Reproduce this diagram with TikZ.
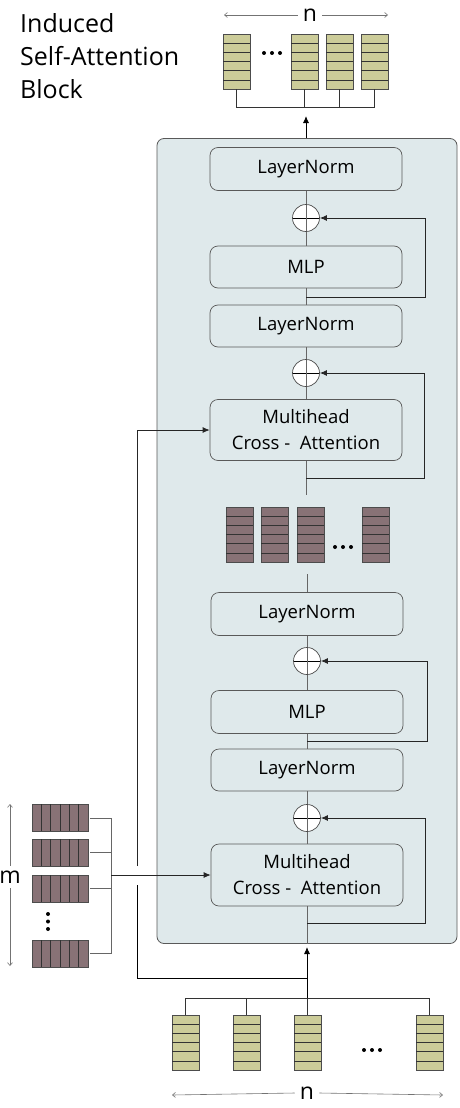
\documentclass[tikz,border=0pt]{standalone}
\usepackage{fontspec}
\setmainfont{Open Sans}
\usetikzlibrary{arrows.meta}
\definecolor{blockfill}{RGB}{223,233,235}
\definecolor{olivetok}{RGB}{204,204,153}
\definecolor{mauvetok}{RGB}{136,114,118}
\def\vtok(#1,#2)#3{\draw[fill=#3, draw=black!70, line width=0.6pt] (#1,#2) rectangle ++(27,55); \foreach \k in {1,...,5} {\draw[black!80, line width=0.6pt] (#1,#2) ++(0,{\k*55/6}) -- ++(27,0);}}
\def\htok(#1,#2)#3{\draw[fill=#3, draw=black!70, line width=0.6pt] (#1,#2) rectangle ++(56,27); \foreach \k in {1,...,5} {\draw[black!80, line width=0.6pt] (#1,#2) ++({\k*56/6},0) -- ++(0,27);}}
\def\tokdot(#1,#2){\fill[black] (#1,#2) circle (2);}
\tikzset{
	unit/.style={draw=black!65, fill=blockfill, line width=0.7pt, rounded corners=8pt, minimum width=192pt, minimum height=43pt, align=center, font=\fontsize{18.5}{26}\selectfont},
	addnode/.style={circle, draw=black!70, fill=white, line width=0.7pt, minimum size=27pt, inner sep=0pt, path picture={\draw[black, line width=0.7pt] (path picture bounding box.west) -- (path picture bounding box.east); \draw[black!60, line width=0.7pt] (path picture bounding box.north) -- (path picture bounding box.south);}},
	link/.style={draw=black!60, line width=0.9pt},
	skiplink/.style={draw=black!85, line width=0.9pt, -{Latex[length=7pt,width=6pt]}},
	dimline/.style={draw=black!55, line width=0.6pt, -{Straight Barb[length=3pt,width=5pt]}},
	lbl/.style={font=\fontsize{23}{26}\selectfont, inner sep=5pt}
}

\begin{document}
\begin{tikzpicture}[x=1pt, y=-1pt]
		%%%%% START %%%%%
		\useasboundingbox (0,0) rectangle (459,1108);
		
		\node[anchor=base west, inner sep=0pt, font=\fontsize{25}{33}\selectfont] (title1) at (20,33) {Induced};
		\node[anchor=base west, inner sep=0pt, font=\fontsize{25}{33}\selectfont] (title2) at (20,66) {Self-Attention};
		\node[anchor=base west, inner sep=0pt, font=\fontsize{25}{33}\selectfont] (title3) at (20,99) {Block};
		
		\node[draw=black!65, fill=blockfill, line width=0.8pt, rounded corners=7pt, minimum width=300pt, minimum height=805pt] (block) at (307,541) {};
		
		%% upper half
		\node[unit] (ln1) at (306,169) {LayerNorm};
		\node[addnode] (add1) at (306,218) {};
		\node[unit, minimum height=42pt] (mlp1) at (306,267) {MLP};
		\node[unit, minimum height=42pt] (ln2) at (306,326) {LayerNorm};
		\node[addnode] (add2) at (306,373) {};
		\node[unit, minimum height=61pt] (mh1) at (306,430) {Multihead\\Cross -\ \ Attention};
		
		\draw[link] (ln1) -- (add1) -- (mlp1) -- (ln2) -- (add2) -- (mh1);
		\coordinate (br1) at (306,297);
		\coordinate (br2) at (306,478);
		\coordinate (m1) at (306,495);
		\draw[link] (mh1.south) -- (m1);
		\draw[skiplink] (br1) -- ++(119,0) |- (add1.east);
		\draw[skiplink] (br2) -- ++(118,0) |- (add2.east);
		
		%% induced points
		\vtok(226,507){mauvetok}
		\vtok(261,507){mauvetok}
		\vtok(297,507){mauvetok}
		\vtok(362,507){mauvetok}
		\tokdot(335,547) \tokdot(343,547) \tokdot(351,547)
		
		%% lower half
		\coordinate (m2) at (307,574);
		\node[unit] (ln3) at (307,614) {LayerNorm};
		\node[addnode] (add3) at (307,661) {};
		\node[unit] (mlp2) at (307,712) {MLP};
		\node[unit, minimum height=42pt] (ln4) at (307,770) {LayerNorm};
		\node[addnode] (add4) at (307,818) {};
		\node[unit, minimum height=62pt] (mh2) at (307,875) {Multihead\\Cross -\ \ Attention};
		
		\draw[link] (m2) -- (ln3) -- (add3) -- (mlp2) -- (ln4) -- (add4) -- (mh2) -- (mh2 |- block.south);
		\coordinate (br3) at (307,741);
		\coordinate (br4) at (307,923);
		\draw[skiplink] (br3) -- ++(120,0) |- (add3.east);
		\draw[skiplink] (br4) -- ++(118,0) |- (add4.east);
		
		%% output tokens
		\node[lbl] (ntop) at (310,15) {n};
		\draw[dimline] (ntop.west) -- (224,15);
		\draw[dimline] (ntop.east) -- (388,15);
		\vtok(223,34){olivetok}
		\vtok(291,34){olivetok}
		\vtok(326,34){olivetok}
		\vtok(361,34){olivetok}
		\tokdot(264,53) \tokdot(272,53) \tokdot(280,53)
		\coordinate (tbar) at (306,107);
		\draw[black!80, line width=0.8pt] (236.5,89) |- (374.5,107) -- (374.5,89);
		\draw[black!80, line width=0.8pt] (304.5,89) -- (304.5,107);
		\draw[black!80, line width=0.8pt] (339.5,89) -- (339.5,107);
		\coordinate (tout) at (306,116);
		\draw[link, -{Latex[length=7pt,width=6pt]}, draw=black] (block.north -| tout) -- (tout);
		
		%% set of size m
		\htok(32,804){mauvetok}
		\htok(32,839){mauvetok}
		\htok(32,875){mauvetok}
		\htok(32,940){mauvetok}
		\tokdot(48,914) \tokdot(48,921.5) \tokdot(48,929)
		\draw[link] (90,818) -- (111,818) -- (111,953) -- (90,953);
		\draw[link] (90,852) -- (111,852);
		\draw[link] (90,888) -- (111,888);
		\coordinate (mset) at (111,875);
		\draw[skiplink, line width=0.8pt] (mset) -- (mh2.west);
		\node[lbl] (mlab) at (10,877) {m};
		\draw[dimline] (mlab.north) -- (10,804);
		\draw[dimline] (mlab.south) -- (10,966);
		
		%% input tokens
		\coordinate (bbar) at (307,998);
		\coordinate (ljoin) at (307,978);
		\coordinate (bin) at (307,947);
		\draw[skiplink, draw=black] (bbar) -- (bin);
		\draw[link, draw=black] (ljoin) -| (137,885);
		\draw[skiplink, line width=0.8pt] (137,866) |- (mh1.west);
		\vtok(172,1015){olivetok}
		\vtok(233,1015){olivetok}
		\vtok(294,1015){olivetok}
		\vtok(416,1015){olivetok}
		\tokdot(364,1050) \tokdot(372,1050) \tokdot(380,1050)
		\draw[black!80, line width=0.8pt] (185.5,1015) |- (429.5,998) -- (429.5,1015);
		\draw[black!80, line width=0.8pt] (246.5,1015) -- (246.5,998);
		\draw[black!80, line width=0.8pt] (307,1015) -- (bbar);
		\node[lbl] (nbot) at (307,1093) {n};
		\draw[dimline] (nbot.west) -- (172,1095);
		\draw[dimline] (nbot.east) -- (443,1095);
		
		%%%%% END %%%%%
	\end{tikzpicture}
\end{document}
